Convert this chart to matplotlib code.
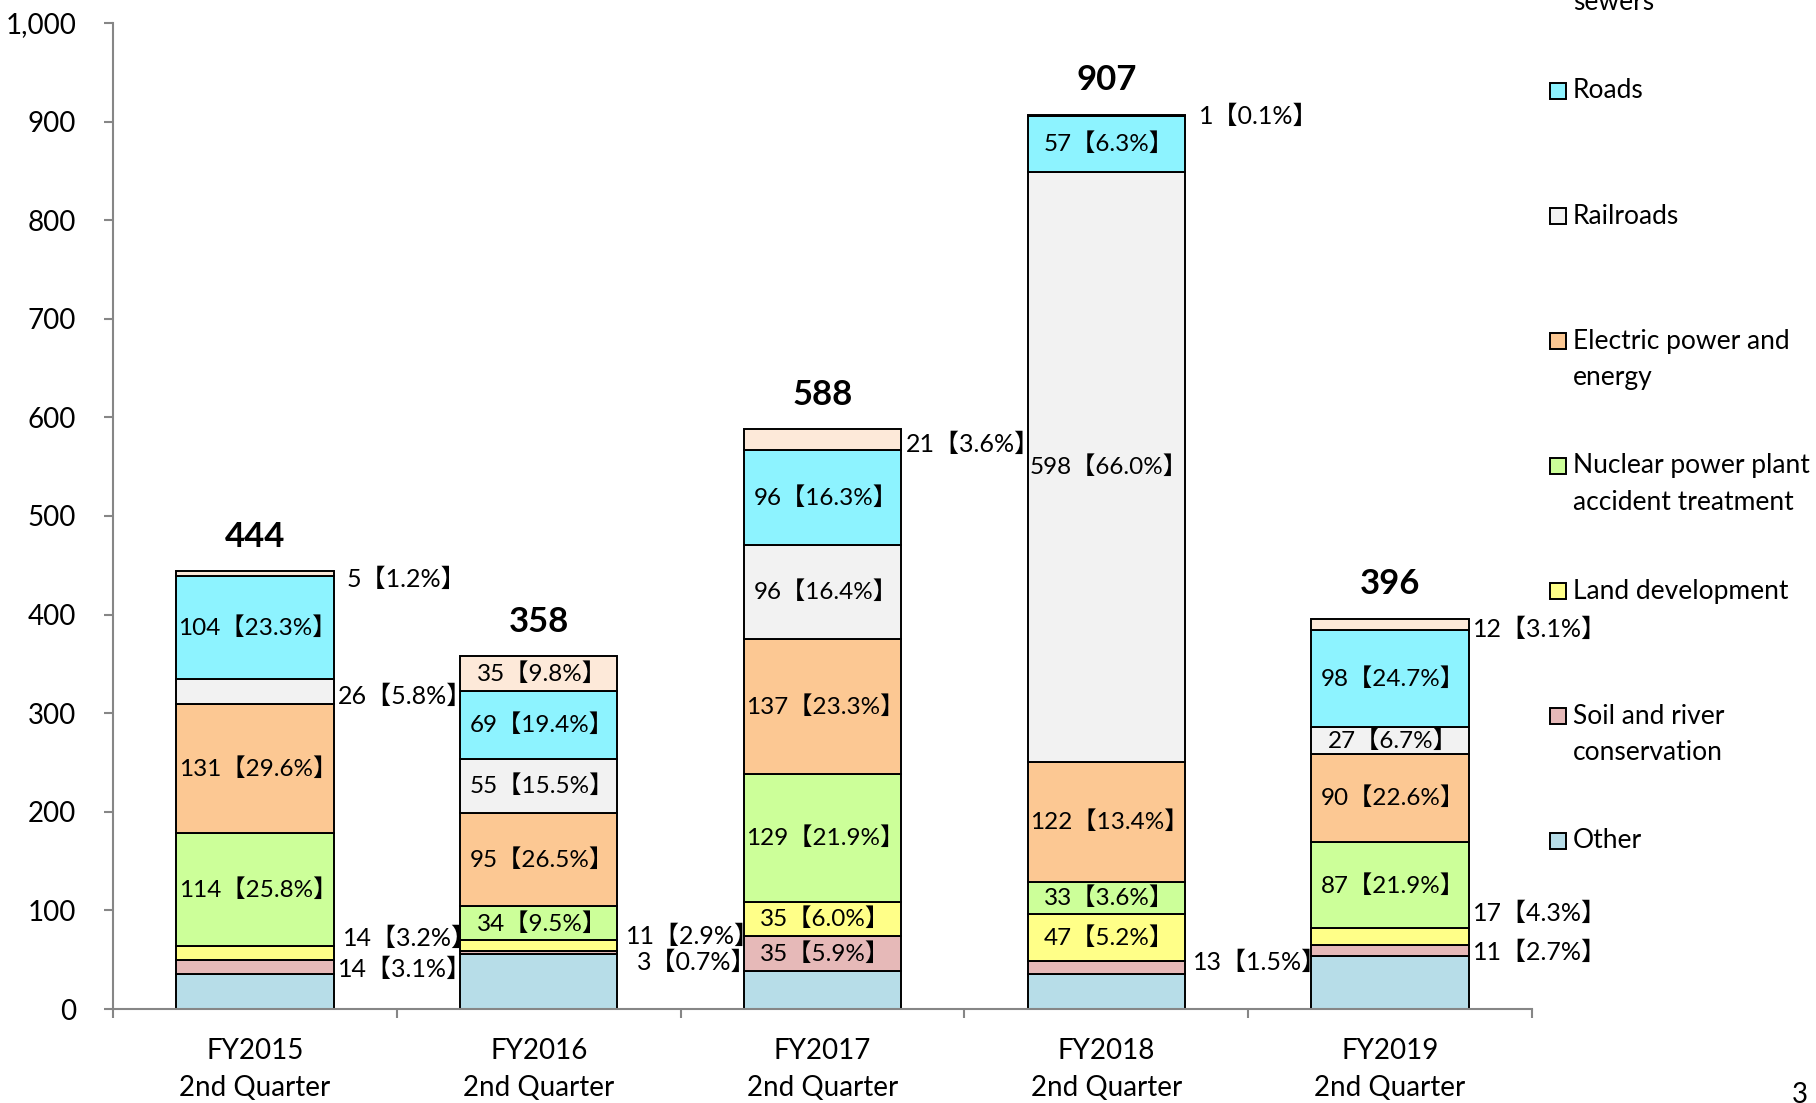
import matplotlib
matplotlib.use('Agg')
import matplotlib.pyplot as plt
from matplotlib.patches import Rectangle
from matplotlib.ticker import FuncFormatter

plt.rcParams['font.family'] = ['Lato', 'Noto Sans CJK JP', 'DejaVu Sans']

periods = ['FY2015\n2nd Quarter', 'FY2016\n2nd Quarter', 'FY2017\n2nd Quarter',
           'FY2018\n2nd Quarter', 'FY2019\n2nd Quarter']
totals = [444, 358, 588, 907, 396]

# stacked bottom -> top
other = [36, 56, 39, 36, 54]
soil = [14, 3, 35, 13, 11]
land = [14, 11, 35, 47, 17]
nuclear = [114, 34, 129, 33, 87]
electric = [131, 95, 137, 122, 90]
railroads = [26, 55, 96, 598, 27]
roads = [104, 69, 96, 57, 98]
sewers = [5, 35, 21, 1, 12]

soil_pct = [3.1, 0.7, 5.9, 1.5, 2.7]
land_pct = [3.2, 2.9, 6.0, 5.2, 4.3]
nuclear_pct = [25.8, 9.5, 21.9, 3.6, 21.9]
electric_pct = [29.6, 26.5, 23.3, 13.4, 22.6]
railroads_pct = [5.8, 15.5, 16.4, 66.0, 6.7]
roads_pct = [23.3, 19.4, 16.3, 6.3, 24.7]
sewers_pct = [1.2, 9.8, 3.6, 0.1, 3.1]

names = ['Other', 'Soil and river\nconservation', 'Land development',
         'Nuclear power plant\naccident treatment', 'Electric power and\nenergy',
         'Railroads', 'Roads', 'Water supply and\nsewers']
colors = ['#B7DDE8', '#E6B9B8', '#FFFF88', '#CCFF99', '#FCC893',
          '#F2F2F2', '#8DF3FF', '#FDE9D9']
series = [other, soil, land, nuclear, electric, railroads, roads, sewers]
pcts = [None, soil_pct, land_pct, nuclear_pct, electric_pct,
        railroads_pct, roads_pct, sewers_pct]

# labels placed beside the bar: (series, period) -> (y in data units, x offset px)
outside = {
    (7, 0): (436, 13), (5, 0): (317, 4), (2, 0): (72, 9), (1, 0): (40, 4),
    (2, 1): (74, 8), (1, 1): (47, 20),
    (7, 2): (573, 5),
    (7, 3): (905, 14), (1, 3): (47, 8),
    (7, 4): (385, 4), (2, 4): (97, 4), (1, 4): (58, 4),
}

W, H = 1816, 1103
fig = plt.figure(figsize=(W / 100, H / 100), dpi=100)
ax = fig.add_axes([113 / W, (H - 1009) / H, (1532 - 113) / W, (1009 - 23) / H])

gray = '#868686'
bw = 0.555
x = range(len(periods))
bottom = [0] * len(periods)
for k, vals in enumerate(series):
    ax.bar(x, vals, bw, bottom=bottom, color=colors[k], edgecolor='black',
           linewidth=1.4, zorder=2)
    if pcts[k] is not None:
        for i, v in enumerate(vals):
            txt = f'{v}【{pcts[k][i]:.1f}%】'
            if (k, i) in outside:
                ly, dx = outside[(k, i)]
                ax.annotate(txt, (i + bw / 2, ly), xytext=(dx * 0.72, 0),
                            textcoords='offset points', ha='left', va='center',
                            fontsize=18)
            else:
                ax.text(i + 0.01, bottom[i] + v / 2, txt, ha='center', va='center',
                        fontsize=17.5, zorder=3)
    bottom = [b + v for b, v in zip(bottom, vals)]

for i, t in enumerate(totals):
    ax.text(i, t + 35, str(t), ha='center', va='center', fontsize=25,
            fontweight='bold')

ax.set_xlim(-0.5, len(periods) - 0.5)
ax.set_ylim(0, 1000)
ax.set_yticks(range(0, 1001, 100))
ax.yaxis.set_major_formatter(FuncFormatter(lambda v, p: f'{int(v):,}'))
ax.set_xticks(list(x))
ax.set_xticklabels(periods, linespacing=1.5)
ax.set_xticks([i - 0.5 for i in range(len(periods) + 1)], minor=True)

for side in ['top', 'right']:
    ax.spines[side].set_visible(False)
for side in ['left', 'bottom']:
    ax.spines[side].set_color(gray)
    ax.spines[side].set_linewidth(1.5)
ax.tick_params(axis='y', direction='out', length=6.5, width=1.5, color=gray,
               labelsize=20, pad=20)
ax.tick_params(axis='x', which='major', length=0, labelsize=20, pad=21)
ax.tick_params(axis='x', which='minor', direction='out', length=6.5, width=1.5,
               color=gray)

# legend, drawn top -> bottom in reverse stacking order
row0 = -34
for r, k in enumerate(range(len(names) - 1, -1, -1)):
    yc = row0 + r * 125
    fig.patches.append(Rectangle((1550 / W, (H - yc - 8) / H), 16 / W, 16 / H,
                                 transform=fig.transFigure, facecolor=colors[k],
                                 edgecolor='black', linewidth=1.4))
    for j, line in enumerate(names[k].split('\n')):
        fig.text(1573 / W, (H - yc - j * 36) / H, line, ha='left', va='center',
                 fontsize=19)

fig.text(1792 / W, (H - 1095) / H, '3', ha='left', va='center', fontsize=20)

fig.savefig('out.png', dpi=100)
